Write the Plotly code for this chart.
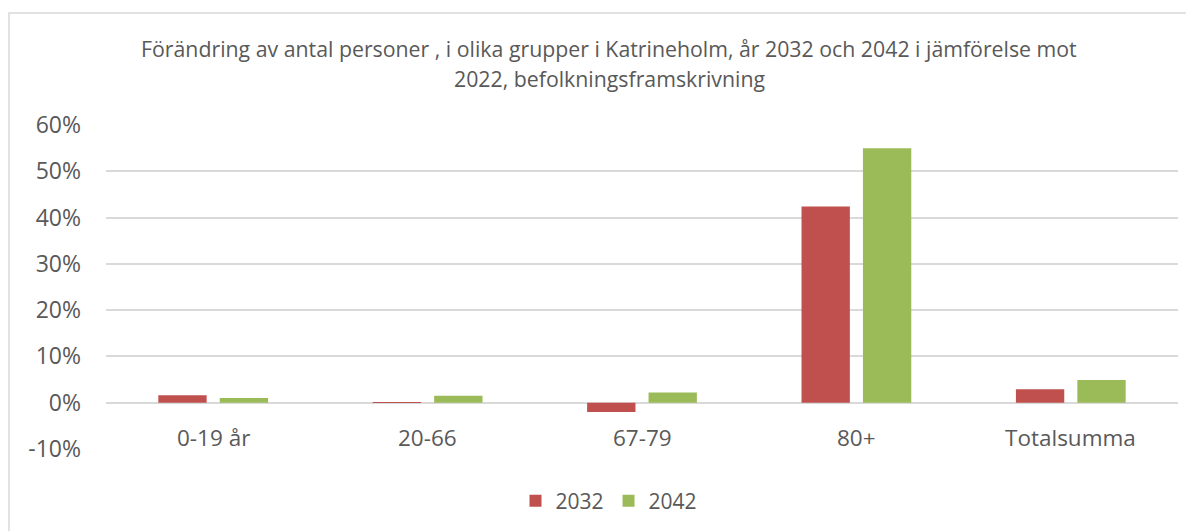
import plotly.graph_objects as go

categories = ["0-19 år", "20-66", "67-79", "80+", "Totalsumma"]
series_names = ["2032", "2042"]
values_2032 = [1.6, 0.15, -2.0, 42.4, 2.9]
values_2042 = [1.0, 1.5, 2.2, 55.0, 4.9]
colors = ["#C0504D", "#9BBB59"]
y_ticks = [-10, 0, 10, 20, 30, 40, 50, 60]
y_tick_labels = [f"{v}%" for v in y_ticks]
title_lines = ["Förändring av antal personer , i olika grupper i Katrineholm, år 2032 och 2042 i jämförelse mot",
               "2022, befolkningsframskrivning"]

OFF = 8  # page body margin
W, H = 1194, 531
ML, MT = 106 - OFF, 125 - OFF
PLOT_R, PLOT_B = 1178 - OFF, 449 - OFF
MR, MB = W - PLOT_R, H - PLOT_B
PW, PH = PLOT_R - ML, PLOT_B - MT

def px_x(x):
    return (x - OFF - ML) / PW

def px_y(y):
    return (PLOT_B - (y - OFF)) / PH

FONT = "Open Sans"
TXT = "#595959"

fig = go.Figure()
for name, vals, col in zip(series_names, [values_2032, values_2042], colors):
    fig.add_trace(go.Bar(x=categories, y=vals, name=name, marker=dict(color=col, line=dict(width=0))))

annotations = []
for line, ypix in zip(title_lines, [48, 78]):
    annotations.append(dict(text=line, xref="paper", yref="paper", x=px_x(609), y=px_y(ypix),
                            xanchor="center", yanchor="middle", showarrow=False,
                            font=dict(family=FONT, size=21.3, color=TXT)))
for c in categories:
    annotations.append(dict(text=c, x=c, y=0, xref="x", yref="y", yshift=-35,
                            xanchor="center", yanchor="middle", showarrow=False,
                            font=dict(family=FONT, size=22.5, color=TXT)))

fig.update_layout(
    width=W, height=H,
    margin=dict(l=ML, r=MR, t=MT, b=MB, autoexpand=False),
    paper_bgcolor="white", plot_bgcolor="white",
    barmode="group", bargap=0.427, bargroupgap=0.213,
    showlegend=True,
    legend=dict(orientation="h", x=px_x(609), xanchor="center", y=px_y(501), yanchor="middle",
                font=dict(family=FONT, size=21, color=TXT), itemwidth=30,
                bgcolor="rgba(0,0,0,0)"),
    annotations=annotations,
    xaxis=dict(showticklabels=False, showgrid=False, zeroline=False, showline=False, ticks=""),
    yaxis=dict(range=[-10, 60], tickvals=y_ticks, ticktext=y_tick_labels,
               showgrid=True, gridcolor="#D9D9D9", gridwidth=1.5,
               zeroline=True, zerolinecolor="#D9D9D9", zerolinewidth=1.5,
               showline=False, ticks="", ticklabelstandoff=24,
               tickfont=dict(family=FONT, size=23, color=TXT)),
    shapes=[dict(type="rect", xref="paper", yref="paper",
                 x0=px_x(9), x1=px_x(1400), y0=px_y(13), y1=px_y(800),
                 line=dict(color="#D9D9D9", width=1.5), fillcolor="rgba(0,0,0,0)", layer="below")],
    font=dict(family=FONT, color=TXT),
)
fig.write_html("out.html")
